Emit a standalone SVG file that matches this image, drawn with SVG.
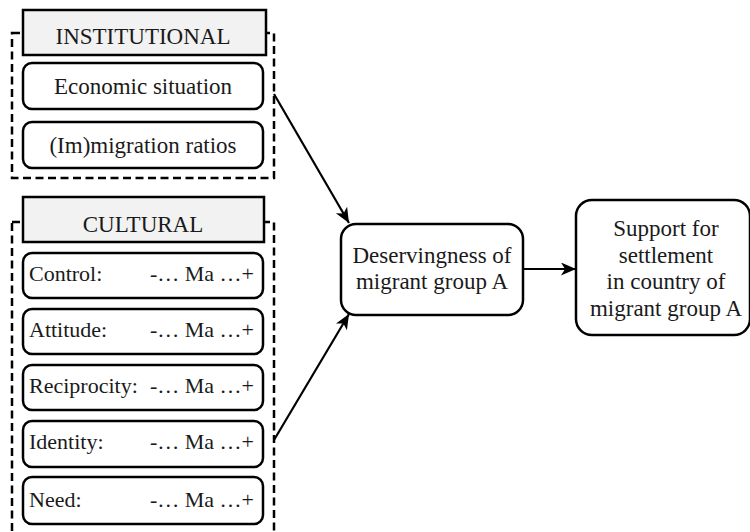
<svg xmlns="http://www.w3.org/2000/svg" width="750" height="532" viewBox="0 0 750 532" font-family="'Liberation Serif', 'DejaVu Serif', serif" font-size="22">
  <style>
    text { font-family: 'Liberation Serif', 'DejaVu Serif', serif; font-size: 22px; fill: #1a1a1a; }
    .c { text-anchor: middle; font-size: 23px; }
    .e { text-anchor: end; }
    .group { fill: none; stroke: #000; stroke-width: 2.5; stroke-dasharray: 8 4.5; }
    .head { fill: #f2f2f2; stroke: #000; stroke-width: 2.5; }
    .box { fill: #fff; stroke: #000; stroke-width: 2.5; }
    .conn { stroke: #000; stroke-width: 2.2; fill: none; marker-end: url(#arr); }
  </style>
  <defs>
    <marker id="arr" markerUnits="userSpaceOnUse" markerWidth="16" markerHeight="14" refX="15" refY="6.5" orient="auto">
      <path d="M0,0 L15,6.5 L0,13 L4,6.5 z" fill="#000"/>
    </marker>
  </defs>
  <rect width="750" height="532" fill="#fff"/>

  <g id="institutional">
    <rect class="group" x="12" y="33" width="262" height="145"/>
    <rect class="head" x="23" y="10" width="243" height="45"/>
    <text class="c" x="143" y="44">INSTITUTIONAL</text>
  </g>
  <g id="economic">
    <rect class="box" x="23" y="63" width="240" height="46" rx="9"/>
    <text class="c" x="143" y="94">Economic situation</text>
  </g>
  <g id="migration">
    <rect class="box" x="23" y="122" width="240" height="46" rx="9"/>
    <text class="c" x="143" y="153">(Im)migration ratios</text>
  </g>

  <g id="cultural">
    <rect class="group" x="12" y="222" width="262" height="330"/>
    <rect class="head" x="23" y="197" width="241" height="45"/>
    <text class="c" x="143" y="232">CULTURAL</text>
  </g>
  <g id="control">
    <rect class="box" x="23" y="253" width="240" height="45" rx="9"/>
    <text x="29" y="281">Control:</text>
    <text class="e" x="254" y="281">-… Ma …+</text>
  </g>
  <g id="attitude">
    <rect class="box" x="23" y="309" width="240" height="45" rx="9"/>
    <text x="29" y="337">Attitude:</text>
    <text class="e" x="254" y="337">-… Ma …+</text>
  </g>
  <g id="reciprocity">
    <rect class="box" x="23" y="365" width="240" height="45" rx="9"/>
    <text x="29" y="393">Reciprocity:</text>
    <text class="e" x="254" y="393">-… Ma …+</text>
  </g>
  <g id="identity">
    <rect class="box" x="23" y="421" width="240" height="46" rx="9"/>
    <text x="29" y="449">Identity:</text>
    <text class="e" x="254" y="449">-… Ma …+</text>
  </g>
  <g id="need">
    <rect class="box" x="23" y="477" width="240" height="47" rx="9"/>
    <text x="29" y="507">Need:</text>
    <text class="e" x="254" y="507">-… Ma …+</text>
  </g>

  <g id="deservingness">
    <rect class="box" x="341" y="224" width="182" height="91" rx="15"/>
    <text class="c" x="432" y="263">Deservingness of</text>
    <text class="c" x="432" y="289">migrant group A</text>
  </g>
  <g id="support">
    <rect class="box" x="576" y="200" width="174" height="135" rx="16"/>
    <text class="c" x="666" y="236">Support for</text>
    <text class="c" x="666" y="263">settlement</text>
    <text class="c" x="666" y="289">in country of</text>
    <text class="c" x="666" y="316">migrant group A</text>
  </g>

  <g id="connectors">
    <line class="conn" x1="274" y1="94" x2="349" y2="223"/>
    <line class="conn" x1="274" y1="440" x2="349" y2="314"/>
    <line class="conn" x1="523" y1="269" x2="576" y2="269"/>
  </g>
</svg>
